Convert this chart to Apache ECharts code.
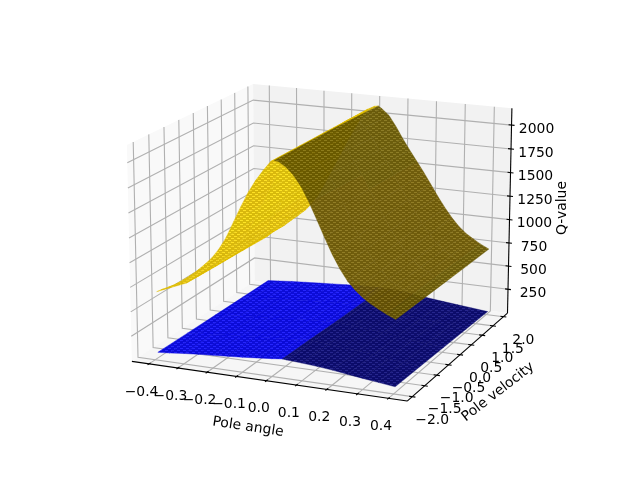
<!DOCTYPE html><html><head><meta charset="utf-8"><style>html,body{margin:0;background:#fff}#c{width:639px;height:479px}</style></head><body><div id="c"></div>
<script src="https://cdn.jsdelivr.net/npm/echarts@6/dist/echarts.min.js"></script>
<script>
const poleAngleTop=[-.39,-.375,-.35,-.325,-.3,-.275,-.25,-.225,-.2,-.175,-.15,-.125,-.1,-.075,-.05,-.025,0,.012,.025,.05,.075,.1,.125,.15,.175,.2,.225,.25,.275,.3,.325,.35,.375,.405];
const poleVelocity=[-2,-1,0,1,2];
const qTopV1=[695,720,755,795,845,900,960,1030,1105,1205,1330,1490,1650,1800,1925,2030,2125,2140,2135,2090,2015,1910,1770,1610,1445,1290,1155,1045,965,900,850,810,770,730];
const qTopV2=[595,630,680,735,795,860,930,1010,1100,1205,1340,1498,1655,1805,1930,2040,2120,2135,2125,2070,1985,1875,1745,1595,1445,1300,1170,1060,975,900,848,805,765,722];
const qTopV3=[580,620,670,725,785,850,920,1003,1097,1215,1355,1510,1665,1810,1938,2050,2114,2128,2105,2050,1955,1840,1720,1580,1445,1310,1190,1075,980,900,846,800,758,714];
const qTopV4=[570,610,665,715,778,840,908,992,1093,1222,1368,1520,1672,1815,1944,2060,2106,2116,2095,2030,1928,1808,1690,1565,1442,1320,1205,1090,985,900,843,795,752,706];
const qTopV5=[555,600,660,705,770,830,895,980,1090,1230,1380,1530,1680,1820,1950,2056,2094,2100,2074,2010,1900,1775,1660,1550,1440,1320,1200,1090,990,905,840,790,745,700];
const poleAngleLow=[-.39,-.35,-.3,-.25,-.2,-.15,-.1,-.05,0,.035,.05,.1,.15,.2,.25,.3,.35,.405];
const qLowV1=[72,82,98,110,122,132,144,158,172,184,180,170,158,142,122,102,84,64];
const qLowV2=[68,78,94,106,118,128,138,150,162,174,171,158,143,126,108,90,72,54];
const qLowV3=[64,75,90,101,112,122,132,142,150,158,156,145,128,112,95,78,58,44];
const qLowV4=[61,72,86,96,107,117,127,136,142,148,147,136,118,100,84,66,46,34];
const qLowV5=[58,68,82,92,102,112,122,130,134,138,137,128,108,88,72,56,41,24];
const xTicks=[-.4,-.3,-.2,-.1,0,.1,.2,.3,.4];
const xTickLabels=['−0.4','−0.3','−0.2','−0.1','0.0','0.1','0.2','0.3','0.4'];
const yTicks=[-2,-1.5,-1,-.5,0,.5,1,1.5,2];
const yTickLabels=['−2.0','−1.5','−1.0','−0.5','0.0','0.5','1.0','1.5','2.0'];
const zTicks=[250,500,750,1000,1250,1500,1750,2000];
const zTickLabels=['250','500','750','1000','1250','1500','1750','2000'];
const FONT='13.9px "DejaVu Sans"';
const XL=[-.46,.46],YL=[-2.2,2.2],ZL=[-10,2175];
const ELEV=16,AZIM=-67,DIST=10,BOX=[1.19,1.19,.893];
const SX=2434.8,CX=325.3,SY=-2451.1,CY=232.6,W=639,H=479;
const ALPHA=.95;
const R=Math.PI/180,ce=Math.cos(ELEV*R),se=Math.sin(ELEV*R),ca=Math.cos(AZIM*R),sa=Math.sin(AZIM*R);
function view(p){
 const q0=((p[0]-XL[0])/(XL[1]-XL[0])-.5)*BOX[0],q1=((p[1]-YL[0])/(YL[1]-YL[0])-.5)*BOX[1],q2=((p[2]-ZL[0])/(ZL[1]-ZL[0])-.5)*BOX[2];
 const du=-sa*q0+ca*q1,dw=-se*ca*q0-se*sa*q1+ce*q2,dv=ce*ca*q0+ce*sa*q1+se*q2,w=DIST-dv;
 return [du/w,dw/w,w];
}
const at=(api,p)=>{const v=view(p);return api.coord([v[0],v[1]]);};
const tiles={};
function hatch(rgb){
 const key=rgb.join();
 if(tiles[key])return tiles[key];
 const c=document.createElement('canvas');c.width=6;c.height=4;
 const g=c.getContext('2d');
 g.fillStyle=`rgba(${rgb.map(k=>Math.round(k*.96)).join(',')},${ALPHA})`;g.fillRect(0,0,6,4);
 g.clearRect(0,0,3,1);g.clearRect(3,2,3,1);
 g.fillStyle=`rgba(${rgb.map(k=>Math.min(255,Math.round(k*1.05+26))).join(',')},${ALPHA})`;
 g.fillRect(0,0,3,1);g.fillRect(3,2,3,1);
 return tiles[key]={image:c,repeat:'repeat'};
}
function quads(xs,ys,Z,base){
 const L=[-.667,-.667,.333],out=[];
 for(let j=0;j<ys.length-1;j++)for(let i=0;i<xs.length-1;i++){
  const a=[xs[i],ys[j],Z[j][i]],b=[xs[i+1],ys[j],Z[j][i+1]],c=[xs[i+1],ys[j+1],Z[j+1][i+1]],d=[xs[i],ys[j+1],Z[j+1][i]];
  const u=[c[0]-a[0],c[1]-a[1],c[2]-a[2]],v=[d[0]-b[0],d[1]-b[1],d[2]-b[2]];
  const n=[u[1]*v[2]-u[2]*v[1],u[2]*v[0]-u[0]*v[2],u[0]*v[1]-u[1]*v[0]],m=Math.hypot(n[0],n[1],n[2]);
  const s=((n[0]*L[0]+n[1]*L[1]+n[2]*L[2])/m+1)/2*.7+.3;
  const depth=[a,b,c,d].reduce((t,p)=>t+view(p)[2],0)/4;
  const rgb=base.map(k=>Math.round(k*s/4)*4);
  out.push({pts:[a,b,c,d],depth,hatch:hatch(rgb),color:`rgba(${rgb.join(',')},${ALPHA})`});
 }
 return out.sort((p,q)=>q.depth-p.depth);
}
const topQ=quads(poleAngleTop,poleVelocity,[qTopV1,qTopV2,qTopV3,qTopV4,qTopV5],[255,215,0]);
const lowQ=quads(poleAngleLow,poleVelocity,[qLowV1,qLowV2,qLowV3,qLowV4,qLowV5],[0,0,255]);
const [x0,x1]=XL,[y0,y1]=YL,[z0,z1]=ZL;
const panes=[
 {pts:[[x0,y0,z0],[x0,y1,z0],[x0,y1,z1],[x0,y0,z1]],fill:'#f9f9f9'},
 {pts:[[x0,y1,z0],[x1,y1,z0],[x1,y1,z1],[x0,y1,z1]],fill:'#f2f2f2'},
 {pts:[[x0,y0,z0],[x1,y0,z0],[x1,y1,z0],[x0,y1,z0]],fill:'#f6f6f6'}];
const grid=[];
xTicks.forEach(x=>grid.push([[x,y0,z0],[x,y1,z0],[x,y1,z1]]));
yTicks.forEach(y=>grid.push([[x1,y,z0],[x0,y,z0],[x0,y,z1]]));
zTicks.forEach(z=>grid.push([[x0,y0,z],[x0,y1,z],[x1,y1,z]]));
const dx=(x1-x0)/90,dy=(y1-y0)/90;
const axisLines=[[[x0,y0,z0],[x1,y0,z0]],[[x1,y0,z0],[x1,y1,z0]],[[x1,y1,z0],[x1,y1,z1]]];
xTicks.forEach(x=>axisLines.push([[x,y0-dy,z0],[x,y0+dy,z0]]));
yTicks.forEach(y=>axisLines.push([[x1+dx,y,z0],[x1-dx,y,z0]]));
zTicks.forEach(z=>axisLines.push([[x1+dx,y1,z],[x1-dx,y1,z]]));
const labels=[];
xTicks.forEach((x,i)=>labels.push({p:[x,y0,z0],o:[-7.5,28],t:xTickLabels[i]}));
yTicks.forEach((y,i)=>labels.push({p:[x1,y,z0],o:[20,23.5],t:yTickLabels[i]}));
zTicks.forEach((z,i)=>labels.push({p:[x1,y1,z],o:[25,4],t:zTickLabels[i]}));
const titles=[{t:'Pole angle',x:248,y:427,r:-.15},{t:'Pole velocity',x:498,y:392,r:.66},{t:'Q-value',x:562,y:208,r:Math.PI/2}];
const idx=a=>a.map((_,i)=>[i,0]);
const poly=(list)=>({type:'custom',coordinateSystem:'cartesian2d',silent:true,animation:false,clip:false,data:idx(list),
 renderItem:(p,api)=>{const it=list[p.dataIndex];return {type:'polygon',shape:{points:it.pts.map(q=>at(api,q))},style:{fill:it.fill||it.hatch,stroke:it.color||null,lineWidth:it.color?.4:0}};}});
const line=(list,color,w)=>({type:'custom',coordinateSystem:'cartesian2d',silent:true,animation:false,clip:false,data:idx(list),
 renderItem:(p,api)=>({type:'polyline',shape:{points:list[p.dataIndex].map(q=>at(api,q))},style:{fill:null,stroke:color,lineWidth:w}})});
const chart=echarts.init(document.getElementById('c'),null,{renderer:'canvas',width:W,height:H});
chart.setOption({animation:false,backgroundColor:'#fff',
 grid:{left:0,top:0,width:W,height:H},
 xAxis:{type:'value',show:false,min:(0-CX)/SX,max:(W-CX)/SX,scale:true},
 yAxis:{type:'value',show:false,min:(H-CY)/SY,max:(0-CY)/SY,scale:true},
 series:[poly(panes),line(grid,'#b0b0b0',1.1),line(axisLines,'#000',1.1),poly(lowQ),poly(topQ),
 {type:'custom',coordinateSystem:'cartesian2d',silent:true,animation:false,clip:false,data:idx(labels),
  renderItem:(p,api)=>{const l=labels[p.dataIndex],c=at(api,l.p);return {type:'text',x:c[0]+l.o[0],y:c[1]+l.o[1],style:{text:l.t,font:FONT,fill:'#000',align:'center',verticalAlign:'middle'}};}},
 {type:'custom',coordinateSystem:'cartesian2d',silent:true,animation:false,clip:false,data:idx(titles),
  renderItem:(p,api)=>{const l=titles[p.dataIndex];return {type:'text',x:l.x,y:l.y,rotation:l.r,style:{text:l.t,font:FONT,fill:'#000',align:'center',verticalAlign:'middle'}};}}
 ]});
</script></body></html>
